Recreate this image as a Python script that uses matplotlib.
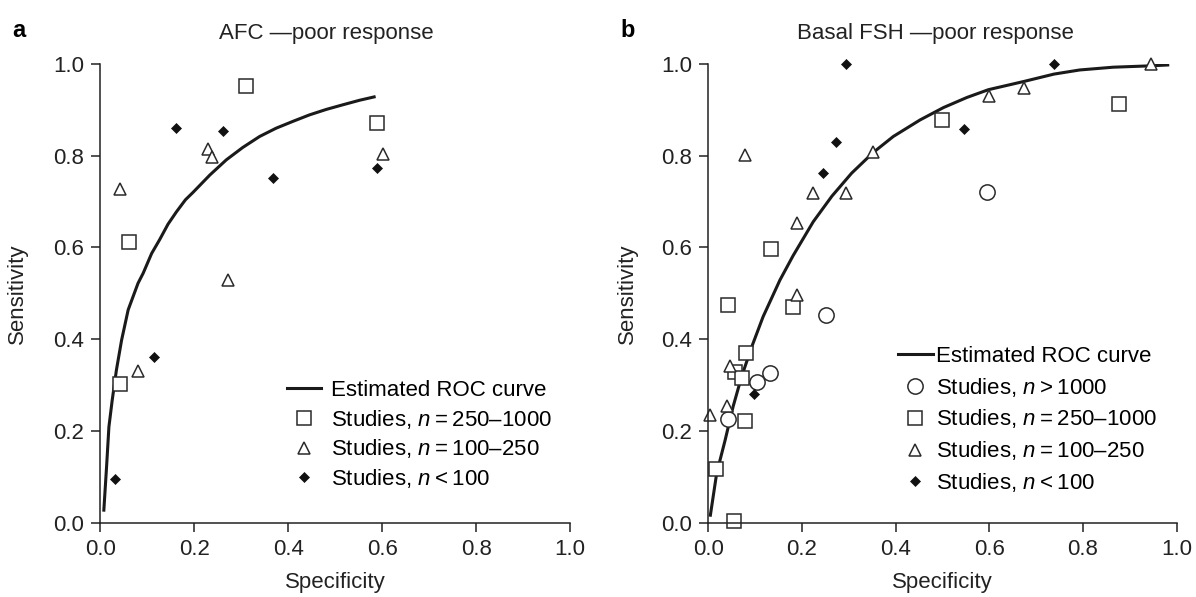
import numpy as np
import matplotlib
matplotlib.use('Agg')
import matplotlib.pyplot as plt
from matplotlib.lines import Line2D

plt.rcParams['font.family'] = ['Liberation Sans', 'DejaVu Sans']
plt.rcParams['mathtext.fontset'] = 'custom'
plt.rcParams['mathtext.rm'] = 'Liberation Sans'
plt.rcParams['mathtext.it'] = 'Liberation Sans:italic'

# ---- panel a: AFC ----
a_sq_x = [0.309, 0.588, 0.061, 0.041]
a_sq_y = [0.952, 0.872, 0.612, 0.302]
a_tri_x = [0.042, 0.230, 0.237, 0.272, 0.601, 0.080]
a_tri_y = [0.727, 0.814, 0.797, 0.528, 0.803, 0.331]
a_dia_x = [0.160, 0.260, 0.368, 0.590, 0.113, 0.030]
a_dia_y = [0.861, 0.853, 0.751, 0.773, 0.361, 0.095]
a_roc_x = [0.007, 0.013, 0.018, 0.025, 0.034, 0.045, 0.059, 0.080, 0.091, 0.109,
           0.126, 0.144, 0.162, 0.181, 0.197, 0.233, 0.268, 0.303, 0.339, 0.374,
           0.410, 0.445, 0.481, 0.516, 0.552, 0.586]
a_roc_y = [0.024, 0.122, 0.209, 0.267, 0.333, 0.398, 0.464, 0.522, 0.544, 0.587,
           0.617, 0.651, 0.678, 0.704, 0.720, 0.758, 0.791, 0.818, 0.842, 0.860,
           0.875, 0.889, 0.901, 0.911, 0.921, 0.929]

# ---- panel b: basal FSH ----
b_circ_x = [0.594, 0.251, 0.132, 0.103, 0.043]
b_circ_y = [0.722, 0.453, 0.326, 0.307, 0.225]
b_sq_x = [0.498, 0.134, 0.877, 0.042, 0.180, 0.080, 0.057, 0.071, 0.078, 0.016, 0.055]
b_sq_y = [0.878, 0.596, 0.913, 0.475, 0.470, 0.371, 0.329, 0.315, 0.222, 0.116, 0.004]
b_tri_x = [0.078, 0.352, 0.224, 0.294, 0.189, 0.190, 0.600, 0.674, 0.944, 0.046, 0.039, 0.004]
b_tri_y = [0.802, 0.809, 0.719, 0.718, 0.654, 0.496, 0.930, 0.948, 1.000, 0.342, 0.254, 0.235]
b_dia_x = [0.293, 0.272, 0.244, 0.546, 0.738, 0.0975]
b_dia_y = [1.000, 0.831, 0.762, 0.858, 1.000, 0.281]
b_roc_x = [0.004, 0.018, 0.036, 0.053, 0.071, 0.093, 0.117, 0.153, 0.181, 0.224,
           0.264, 0.306, 0.352, 0.395, 0.452, 0.502, 0.552, 0.598, 0.674, 0.738,
           0.793, 0.864, 0.944, 0.984]
b_roc_y = [0.013, 0.108, 0.180, 0.253, 0.318, 0.384, 0.449, 0.529, 0.582, 0.656,
           0.712, 0.762, 0.807, 0.842, 0.878, 0.905, 0.927, 0.944, 0.962, 0.978,
           0.987, 0.993, 0.996, 0.998]

ticks = [0.0, 0.2, 0.4, 0.6, 0.8, 1.0]
fs = 16
ec = '#2a2a2a'

sq = dict(marker='s', ms=9.5, mfc='white', mec=ec, mew=1.1, ls='none', clip_on=False)
tri = dict(marker='^', ms=9.0, mfc='white', mec=ec, mew=1.1, ls='none', clip_on=False)
dia = dict(marker='D', ms=5.5, mfc='#111111', mec='#111111', mew=0.5, ls='none', clip_on=False)
circ = dict(marker='o', ms=11, mfc='white', mec=ec, mew=1.1, ls='none', clip_on=False)


def style(ax, title, tx, letter, lx, ylx):
    ax.set_xlim(0, 1)
    ax.set_ylim(0, 1)
    ax.set_xticks(ticks)
    ax.set_yticks(ticks)
    ax.set_xticklabels(['%.1f' % t for t in ticks])
    ax.set_yticklabels(['%.1f' % t for t in ticks])
    for s in ['top', 'right']:
        ax.spines[s].set_visible(False)
    for s in ['left', 'bottom']:
        ax.spines[s].set_linewidth(1.1)
        ax.spines[s].set_color('#222222')
    ax.tick_params(direction='out', length=6.5, width=1.1, color='#222222',
                   labelsize=fs, pad=5, labelcolor='#222222')
    ax.set_xlabel('Specificity', fontsize=fs, color='#222222')
    ax.set_ylabel('Sensitivity', fontsize=fs, color='#222222')
    ax.xaxis.set_label_coords(0.5, -0.108)
    ax.yaxis.set_label_coords(ylx, 0.5)
    ax.set_title(title, fontsize=fs, color='#222222', pad=18, x=tx)
    ax.text(lx, 1.047, letter, transform=ax.transAxes, fontsize=fs + 1,
            fontweight='bold', va='bottom', ha='left')


fig = plt.figure(figsize=(11.96, 5.97), dpi=100)
ax1 = fig.add_axes([0.0840, 0.1245, 0.3926, 0.7683])
ax2 = fig.add_axes([0.5922, 0.1245, 0.3917, 0.7683])

# panel a
ax1.plot(a_roc_x, a_roc_y, color='#1a1a1a', lw=2.2, solid_capstyle='butt',
         solid_joinstyle='round')
ax1.plot(a_sq_x, a_sq_y, **sq)
ax1.plot(a_tri_x, a_tri_y, **tri)
ax1.plot(a_dia_x, a_dia_y, **dia)
style(ax1, 'AFC \u2014poor response', 0.48, 'a', -0.188, -0.154)
h1 = [Line2D([], [], color='#1a1a1a', lw=2.2),
      Line2D([], [], **sq), Line2D([], [], **tri), Line2D([], [], **dia)]
l1 = ['Estimated ROC curve',
      'Studies, $n$\u2009=\u2009250\u20131000',
      'Studies, $n$\u2009=\u2009100\u2013250',
      'Studies, $n$\u2009<\u2009100']
ax1.legend(h1, l1, loc='lower right', bbox_to_anchor=(0.994, 0.037), frameon=False,
           fontsize=fs, handlelength=1.5, handletextpad=0.45, labelspacing=0.3,
           borderpad=0.2)

# panel b
ax2.plot(b_roc_x, b_roc_y, color='#1a1a1a', lw=2.2, solid_capstyle='butt',
         solid_joinstyle='round')
ax2.plot(b_circ_x, b_circ_y, **circ)
ax2.plot(b_sq_x, b_sq_y, **sq)
ax2.plot(b_tri_x, b_tri_y, **tri)
ax2.plot(b_dia_x, b_dia_y, **dia)
style(ax2, 'Basal FSH \u2014poor response', 0.484, 'b', -0.188, -0.150)
h2 = [Line2D([], [], color='#1a1a1a', lw=2.2),
      Line2D([], [], **circ), Line2D([], [], **sq), Line2D([], [], **tri),
      Line2D([], [], **dia)]
l2 = ['Estimated ROC curve',
      'Studies, $n$\u2009>\u20091000',
      'Studies, $n$\u2009=\u2009250\u20131000',
      'Studies, $n$\u2009=\u2009100\u2013250',
      'Studies, $n$\u2009<\u2009100']
ax2.legend(h2, l2, loc='lower right', bbox_to_anchor=(0.992, 0.028), frameon=False,
           fontsize=fs, handlelength=1.6, handletextpad=0.15, labelspacing=0.4,
           borderpad=0.2)

fig.savefig('out.png', dpi=100)
